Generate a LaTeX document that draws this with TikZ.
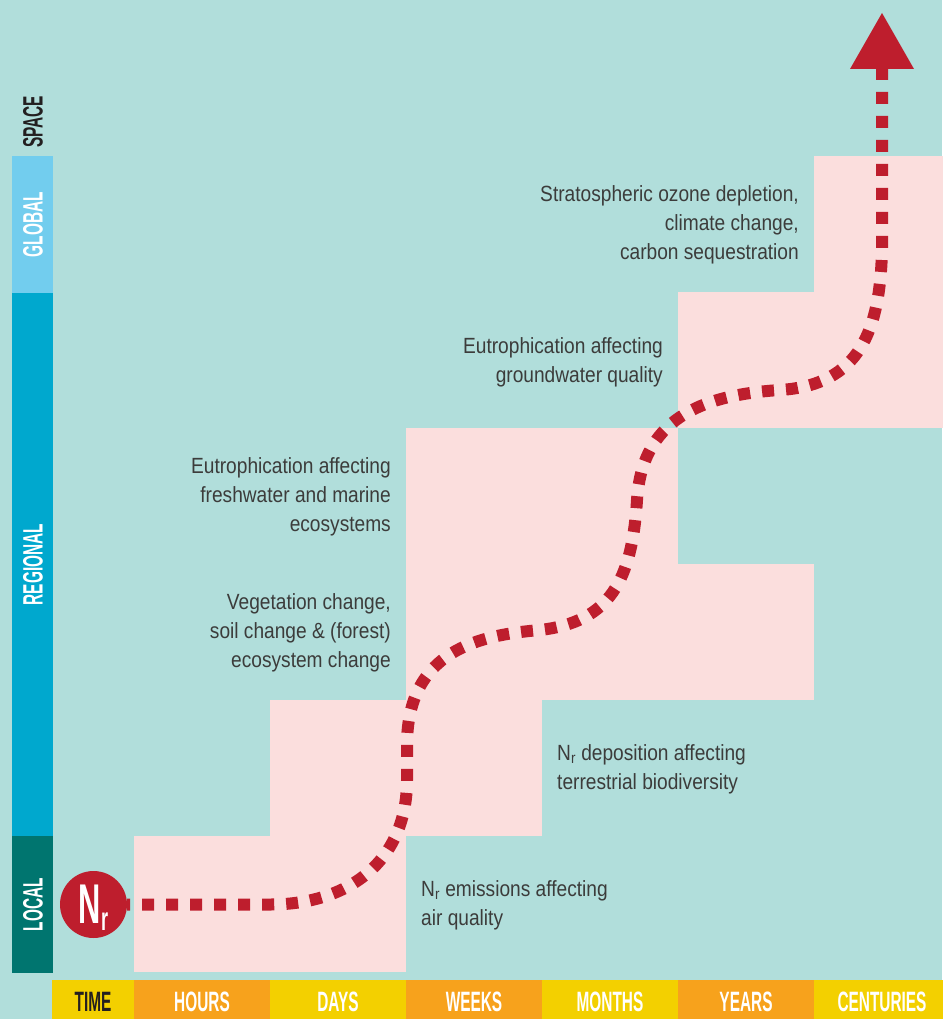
\documentclass[tikz,border=0pt]{standalone}
\usepackage{fontspec}
\setmainfont{Liberation Sans}
\newfontfamily\bodyfont[FakeStretch=0.87]{Liberation Sans}
\newfontfamily\headfont[FakeStretch=0.55]{Liberation Sans}
\definecolor{bgteal}{HTML}{B1DEDB}
\definecolor{steppink}{HTML}{FBDEDD}
\definecolor{localteal}{HTML}{00756F}
\definecolor{regionblue}{HTML}{00A8CE}
\definecolor{globalblue}{HTML}{72CDEE}
\definecolor{baryellow}{HTML}{F3D000}
\definecolor{barorange}{HTML}{F7A21C}
\definecolor{nrred}{HTML}{BE1E2D}
\definecolor{textgray}{HTML}{3C3C3B}
\definecolor{labelblack}{HTML}{231F20}

\begin{document}
\begin{tikzpicture}[x=1pt,y=-1pt,
	headlabel/.style={font=\headfont\bfseries\fontsize{28}{28}\selectfont, inner sep=0pt},
	scalelabel/.style={headlabel, rotate=90},
	effect/.style={font=\bodyfont\fontsize{22}{29}\selectfont, text=textgray, inner sep=0pt},
	dots/.style={line width=12pt, dash pattern=on 12pt off 12pt, nrred}]
			%%%%% START %%%%%
			\useasboundingbox (0,0) rectangle (942,1019);
			\fill[bgteal] (0,0) rectangle (942,1019);
			
			% steps
			\foreach \c/\r in {1/1, 2/1, 2/2, 3/2, 3/3, 4/3, 5/3, 3/4, 4/4, 5/5, 6/5, 6/6}
				\fill[steppink] ({134+136*(\c-1)}, {836-136*(\r-1)}) rectangle ++(136,136);
			
			% space scale
			\fill[localteal] (12, 836) rectangle (53, 973);
			\fill[regionblue] (12, 293) rectangle (53, 836);
			\fill[globalblue] (12, 156) rectangle (53, 293);
			\node[scalelabel, text=white] (local) at (33, 904.5) {LOCAL};
			\node[scalelabel, text=white] (regional) at (33, 564.5) {REGIONAL};
			\node[scalelabel, text=white] (global) at (33, 224.5) {GLOBAL};
			\node[scalelabel, text=labelblack] (space) at (33, 122) {SPACE};
			
			% time scale
			\fill[baryellow] (52, 980) rectangle (134, 1019);
			\node[headlabel, text=labelblack] (time) at (93, 1002) {TIME};
			\foreach \x/\lab/\col in {134/HOURS/barorange, 270/DAYS/baryellow, 406/WEEKS/barorange,
				542/MONTHS/baryellow, 678/YEARS/barorange, 814/CENTURIES/baryellow} {
				\fill[\col] (\x, 980) rectangle ++(136, 39);
				\node[headlabel, text=white] at (\x+68, 1002) {\lab};
			}
			
			% effects
			\node[effect, anchor=west, align=left] (emission) at (421, 905)
				{N\textsubscript{r} emissions affecting\\air quality};
			\node[effect, anchor=west, align=left] (deposition) at (557, 769)
				{N\textsubscript{r} deposition affecting\\terrestrial biodiversity};
			\node[effect, anchor=east, align=right] (vegetation) at (391, 633)
				{Vegetation change,\\soil change \& (forest)\\ecosystem change};
			\node[effect, anchor=east, align=right] (freshwater) at (391, 497)
				{Eutrophication affecting\\freshwater and marine\\ecosystems};
			\node[effect, anchor=east, align=right] (groundwater) at (663, 362)
				{Eutrophication affecting\\groundwater quality};
			\node[effect, anchor=east, align=right] (ozone) at (799, 225)
				{Stratospheric ozone depletion,\\climate change,\\carbon sequestration};
			
			% nitrogen cascade
			\node[circle, fill=nrred, minimum size=67pt, inner sep=0pt, text=white,
				font=\headfont\bfseries\fontsize{56}{56}\selectfont] (nr) at (93.5, 904.5)
				{N\raisebox{-7pt}[0pt][0pt]{\fontsize{33}{33}\selectfont r}};
			\coordinate (tip) at (882, 69);
			\draw[dots, dash phase=9pt] (nr.east) -- (270, 904.5)
				.. controls (350, 904.5) and (407, 860) .. (407, 780) -- (407, 745)
				.. controls (407, 650) and (480, 635) .. (540, 630)
				.. controls (610, 622) and (632, 580) .. (637, 500)
				.. controls (642, 420) and (700, 395) .. (780, 390)
				.. controls (860, 385) and (880, 330) .. (882, 250) -- (tip);
			\fill[nrred] (tip) ++(-32, 0) -- ++(64, 0) -- ++(-32, -56) -- cycle;
			
			%%%%% END %%%%%
\end{tikzpicture}
\end{document}
